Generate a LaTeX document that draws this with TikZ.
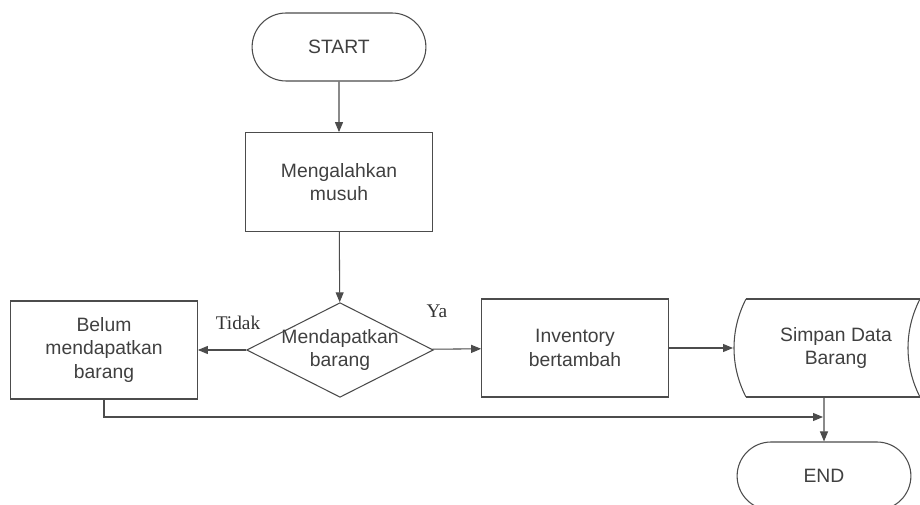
\documentclass[tikz,border=0pt]{standalone}
\usepackage{fontspec}
\setmainfont{Liberation Sans}
\newfontfamily\labelfont{Liberation Serif}
\usetikzlibrary{arrows.meta,shapes.geometric,shapes.misc}

\tikzset{
  garis/.style={draw=black!70, line width=0.8pt},
  panah/.style={garis, -{Triangle[length=7.5pt,width=6pt]}},
  terminal/.style={rounded rectangle, garis, minimum width=140pt, minimum height=51pt, text=black!75},
  proses/.style={rectangle, garis, minimum width=140pt, minimum height=73.5pt, align=center, text=black!75},
  keputusan/.style={diamond, aspect=2, garis, minimum width=140pt, minimum height=71pt, inner sep=-5pt, align=center, text=black!75},
  teks/.style={align=center, text=black!75},
  cabang/.style={font=\labelfont, text=black!80}
}

\begin{document}
\begin{tikzpicture}[x=0.75pt,y=0.75pt,yscale=-1,xscale=1]
\clip (0,0) rectangle (920,505);
\fontsize{14.5}{17.5}\selectfont

%Terminal start
\node[terminal] (start) at (339,47) {START};
%Process
\node[proses, minimum height=74pt] (kalah) at (339,182) {Mengalahkan\\musuh};
%Decision
\node[keputusan] (cek) at (340,350) {Mendapatkan\\barang};
%Process left
\node[proses] (belum) at (104,350) {Belum\\mendapatkan\\barang};
%Process right
\node[proses] (inv) at (575,348) {Inventory\\bertambah};

%Stored data
\draw[garis] (746,299) -- (925,299) (746,397) -- (920,397);
\draw[garis] (746,299) .. controls (730,330) and (730,366) .. (746,397);
\draw[garis] (920,299) .. controls (904,330) and (904,366) .. (920,397);
\node[teks] (simpan) at (836,348) {Simpan Data\\Barang};
\coordinate (simpanW) at (733,348);
\coordinate (simpanS) at (824,397);

%Terminal end
\node[terminal] (end) at (824,476) {END};

%Connectors
\draw[panah] (start) -- (kalah);
\draw[panah] (kalah) -- (cek);
\draw[panah] (cek) -- (belum);
\draw[panah] (cek) -- (inv);
\draw[panah] (inv) -- (simpanW);
\draw[panah] (simpanS) -- (end);
\coordinate (gabung) at (823,417);
\draw[panah] (belum.south) |- (gabung);

%Labels
\node[cabang] (tidak) at (238,323) {Tidak};
\node[cabang] (ya) at (437,311) {Ya};

\end{tikzpicture}
\end{document}
